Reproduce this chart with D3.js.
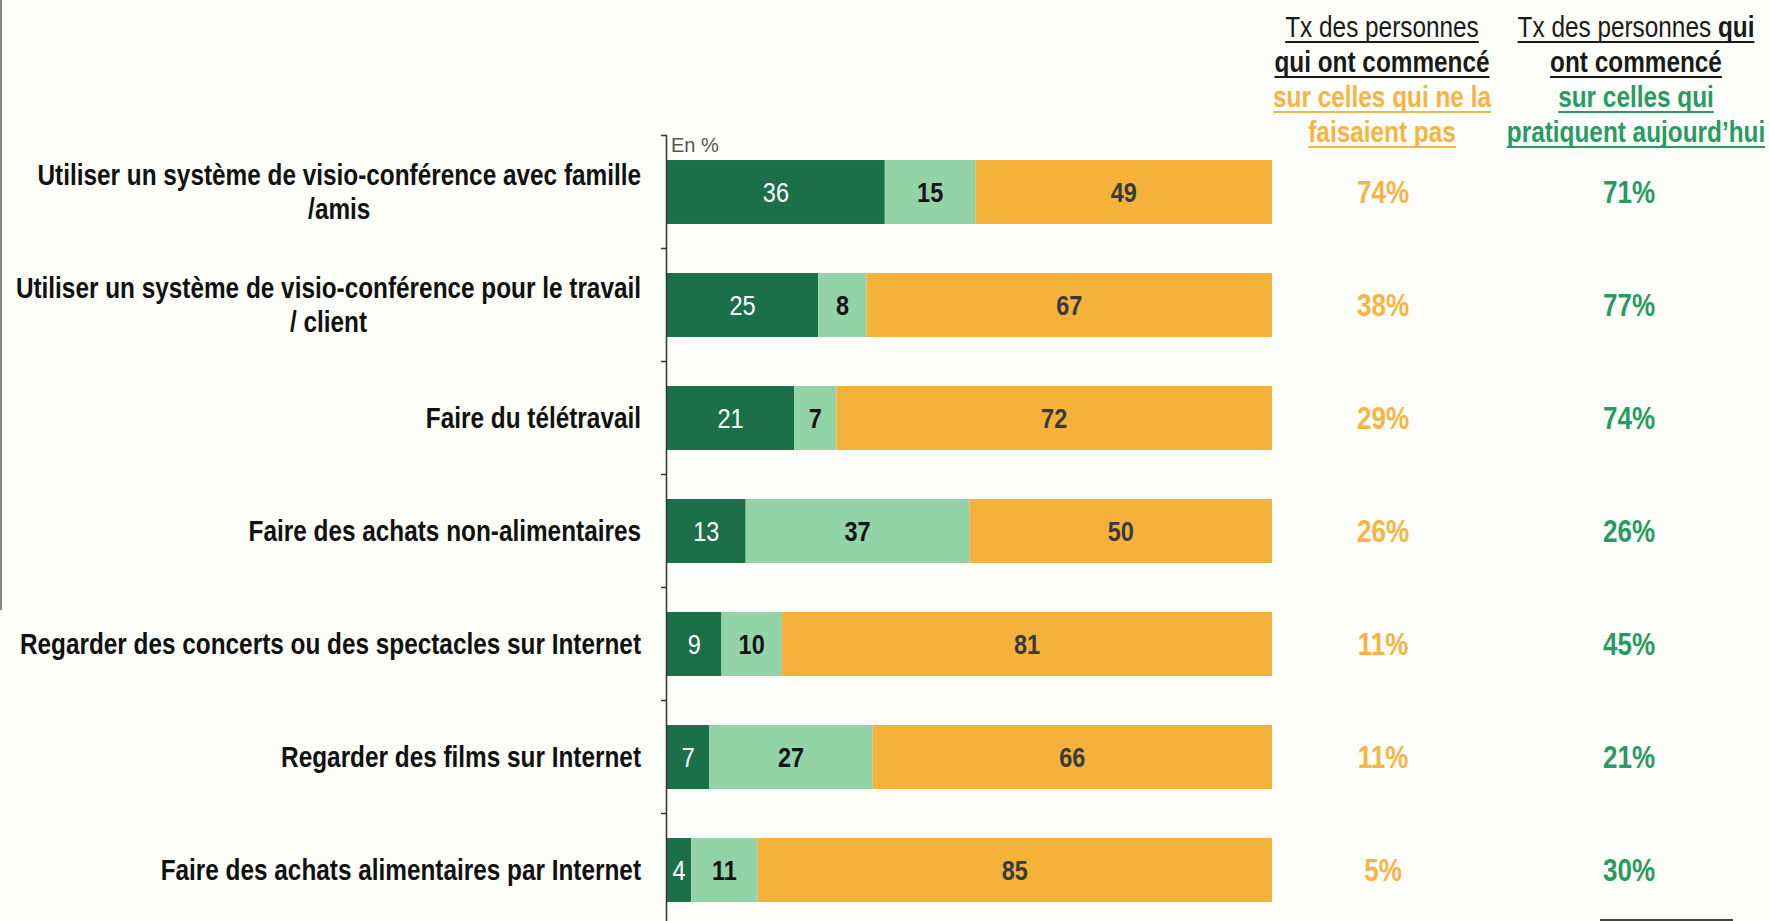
<!DOCTYPE html>
<html>
<head>
<meta charset="utf-8">
<script src="https://cdn.jsdelivr.net/npm/d3@7"></script>
<style>
  html, body { margin: 0; padding: 0; background: #fdfdf9; }
  svg { display: block; }
  text { font-family: "Liberation Sans", Arial, sans-serif; }
</style>
</head>
<body>
<svg id="chart" width="1770" height="921"></svg>
<script>
// data
var categories = [
  "Utiliser un système de visio-conférence avec famille\n/amis",
  "Utiliser un système de visio-conférence pour le travail\n/ client",
  "Faire du télétravail",
  "Faire des achats non-alimentaires",
  "Regarder des concerts ou des spectacles sur Internet",
  "Regarder des films sur Internet",
  "Faire des achats alimentaires par Internet"
];
var seriesKeys = ["commence", "deja", "pas"];
var commenceValues = [36, 25, 21, 13, 9, 7, 4];
var dejaValues = [15, 8, 7, 37, 10, 27, 11];
var pasValues = [49, 67, 72, 50, 81, 66, 85];
var tauxNonPratiquants = [74, 38, 29, 26, 11, 11, 5];
var tauxPratiquants = [71, 77, 74, 26, 45, 21, 30];

var colors = { commence: "#1b7048", deja: "#93d3a8", pas: "#f5b23a" };
var labelColors = { commence: "#ffffff", deja: "#151515", pas: "#3a3a3a" };
var labelWeights = { commence: "normal", deja: "bold", pas: "bold" };

// no narrow font installed -> squeeze Liberation Sans horizontally
var SX = 0.84;

var rows = categories.map(function(c, i) {
  return { cat: c, commence: commenceValues[i], deja: dejaValues[i], pas: pasValues[i] };
});

var svg = d3.select("#chart");

function narrow(parent, px, py, anchor, size, weight, fill) {
  return parent.append("g")
    .attr("transform", "translate(" + px + "," + py + ") scale(" + SX + ",1)")
    .append("text")
    .attr("text-anchor", anchor)
    .attr("font-size", size)
    .attr("font-weight", weight)
    .attr("fill", fill);
}

// faint border on left edge of the scan
svg.append("line")
  .attr("x1", 1).attr("x2", 1).attr("y1", 0).attr("y2", 610)
  .attr("stroke", "#8a8a8a").attr("stroke-width", 2);

var x = d3.scaleLinear().domain([0, 100]).range([667, 1272]);
var y = d3.scaleBand().domain(categories).range([135.5, 926.5])
  .paddingInner(0.434).paddingOuter(0.217);

var stack = d3.stack().keys(seriesKeys);
var layers = stack(rows);

// bars
var g = svg.append("g");
layers.forEach(function(layer) {
  var key = layer.key;
  g.selectAll("rect." + key)
    .data(layer)
    .join("rect")
    .attr("class", key)
    .attr("x", function(d) { return x(d[0]); })
    .attr("y", function(d) { return y(d.data.cat); })
    .attr("width", function(d) { return x(d[1]) - x(d[0]); })
    .attr("height", y.bandwidth())
    .attr("fill", colors[key]);
});
layers.forEach(function(layer) {
  var key = layer.key;
  layer.forEach(function(d) {
    narrow(svg, (x(d[0]) + x(d[1])) / 2, y(d.data.cat) + y.bandwidth() / 2,
           "middle", 28, labelWeights[key], labelColors[key])
      .attr("dy", "0.36em")
      .text(d.data[key]);
  });
});

// axis: line + ticks at category boundaries
var gap = (y.step() - y.bandwidth()) / 2;
var bounds = categories.map(function(c) { return y(c) - gap; });
svg.append("line")
  .attr("x1", x(0) - 0.5).attr("x2", x(0) - 0.5)
  .attr("y1", bounds[0]).attr("y2", 921)
  .attr("stroke", "#333").attr("stroke-width", 1.5);
svg.selectAll("line.tick")
  .data(bounds)
  .join("line")
  .attr("class", "tick")
  .attr("x1", x(0) - 6).attr("x2", x(0))
  .attr("y1", function(d) { return d; }).attr("y2", function(d) { return d; })
  .attr("stroke", "#333").attr("stroke-width", 1.5);

svg.append("text")
  .attr("x", x(0) + 4).attr("y", 152)
  .attr("font-size", 20).attr("fill", "#555")
  .text("En %");

// category labels: block right-aligned at 641, lines centred within block
var labelRight = 641;
categories.forEach(function(c) {
  var lines = c.split("\n");
  var cy = y(c) + y.bandwidth() / 2;
  if (lines.length === 1) {
    narrow(svg, labelRight, cy, "end", 29, "bold", "#111")
      .attr("dy", "0.36em").text(c);
    return;
  }
  var first = narrow(svg, 0, cy - 17, "middle", 29, "bold", "#111")
    .attr("dy", "0.36em").text(lines[0]);
  var w = first.node().getComputedTextLength() * SX;
  var cx = labelRight - w / 2;
  d3.select(first.node().parentNode)
    .attr("transform", "translate(" + cx + "," + (cy - 17) + ") scale(" + SX + ",1)");
  lines.slice(1).forEach(function(line, k) {
    narrow(svg, cx, cy - 17 + (k + 1) * 34, "middle", 29, "bold", "#111")
      .attr("dy", "0.36em").text(line);
  });
});

// right columns
var col1 = 1383, col2 = 1629;
tauxNonPratiquants.forEach(function(v, i) {
  narrow(svg, col1, y(categories[i]) + y.bandwidth() / 2, "middle", 31, "bold", "#f6b443")
    .attr("dy", "0.36em").text(v + "%");
});
tauxPratiquants.forEach(function(v, i) {
  narrow(svg, col2, y(categories[i]) + y.bandwidth() / 2, "middle", 31, "bold", "#2a9a63")
    .attr("dy", "0.36em").text(v + "%");
});

// headers (each line underlined)
var header1 = [
  { parts: [["Tx des personnes", "normal"]], color: "#1a1a1a" },
  { parts: [["qui ont commencé", "bold"]], color: "#1a1a1a" },
  { parts: [["sur celles qui ne la", "bold"]], color: "#f6b443" },
  { parts: [["faisaient pas", "bold"]], color: "#f6b443" }
];
var header2 = [
  { parts: [["Tx des personnes ", "normal"], ["qui", "bold"]], color: "#1a1a1a" },
  { parts: [["ont commencé", "bold"]], color: "#1a1a1a" },
  { parts: [["sur celles qui", "bold"]], color: "#2a9a63" },
  { parts: [["pratiquent aujourd’hui", "bold"]], color: "#2a9a63" }
];
function drawHeader(lines, cx) {
  lines.forEach(function(l, k) {
    var by = 37 + k * 35;
    var t = narrow(svg, cx, by, "middle", 29, "normal", l.color);
    l.parts.forEach(function(p) {
      t.append("tspan").attr("font-weight", p[1]).text(p[0]);
    });
    var w = t.node().getComputedTextLength() * SX;
    svg.append("line")
      .attr("x1", cx - w / 2).attr("x2", cx + w / 2)
      .attr("y1", by + 5).attr("y2", by + 5)
      .attr("stroke", l.color).attr("stroke-width", 2);
  });
}
drawHeader(header1, 1382);
drawHeader(header2, 1636);

// stray underline at bottom right of the scan
svg.append("line")
  .attr("x1", 1600).attr("x2", 1733).attr("y1", 920).attr("y2", 920)
  .attr("stroke", "#444").attr("stroke-width", 2);
</script>
</body>
</html>
